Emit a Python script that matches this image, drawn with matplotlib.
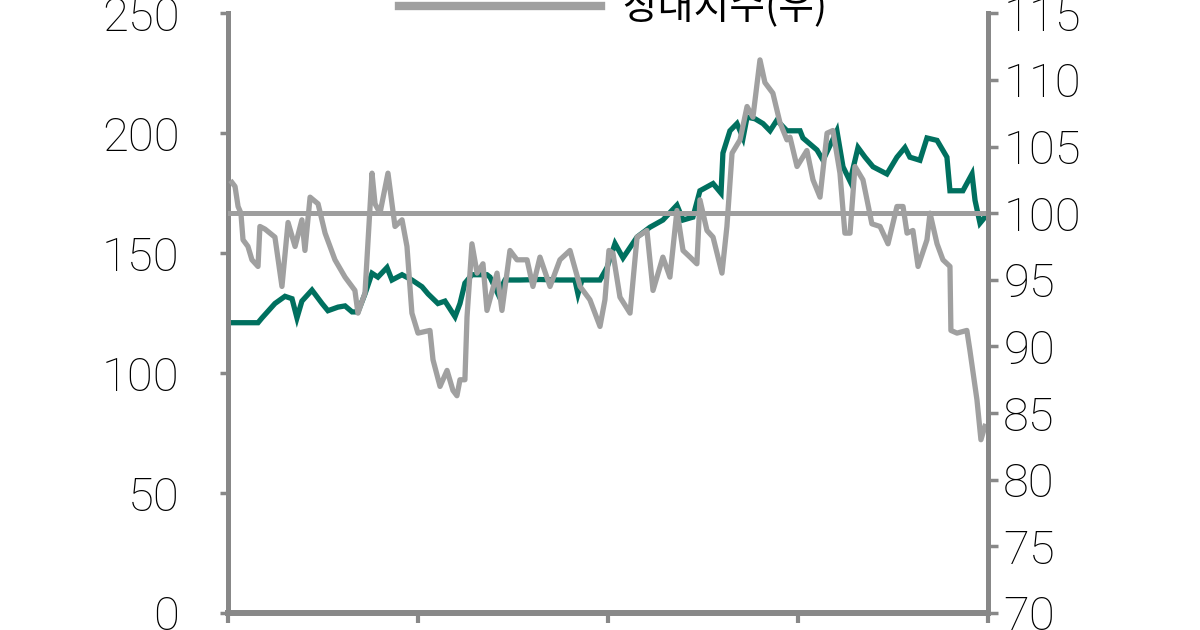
import matplotlib
matplotlib.use('Agg')
import matplotlib.pyplot as plt
from matplotlib import font_manager

# 주가(좌), 상대지수(우) - x는 시작 시점부터의 연 단위
price_t = [0.021, 0.089, 0.158, 0.179, 0.247, 0.300, 0.337, 0.363, 0.389, 0.442,
           0.495, 0.526, 0.579, 0.616, 0.653, 0.684, 0.721, 0.758, 0.789, 0.837,
           0.863, 0.916, 0.968, 1.021, 1.053, 1.105, 1.142, 1.195, 1.221, 1.247,
           1.284, 1.363, 1.379, 1.421, 1.458, 1.537, 1.642, 1.747, 1.826, 1.842,
           1.863, 1.958, 1.995, 2.037, 2.079, 2.153, 2.221, 2.289, 2.363, 2.395,
           2.447, 2.484, 2.553, 2.595, 2.605, 2.642, 2.679, 2.711, 2.732, 2.774,
           2.816, 2.853, 2.889, 2.942, 3.011, 3.026, 3.100, 3.132, 3.205, 3.237,
           3.274, 3.316, 3.353, 3.395, 3.468, 3.521, 3.563, 3.589, 3.642, 3.679,
           3.732, 3.784, 3.800, 3.868, 3.916, 3.932, 3.958, 3.984]
price = [121, 121, 121, 123, 129, 132, 131, 123, 130, 134.6,
         129, 126, 127.5, 128, 125.5, 125.5, 133, 141.6, 140, 144,
         138.8, 141, 138.8, 136, 133, 129, 130, 123.5, 129, 137.5,
         141, 141, 140, 133, 138.8, 138.8, 139, 138.8, 138.8, 133,
         138.8, 138.8, 144, 154, 148, 156.7, 160.8, 163.8, 170, 163.8,
         165, 176, 179, 175, 191.7, 201, 204, 198, 206.7, 206,
         204, 201, 205.4, 201, 201, 198, 193, 188.7, 201, 186,
         180, 194, 190, 186, 183, 190, 194, 190, 188.7, 198,
         197, 190, 176, 176, 183, 172, 162.5, 165]

rel_t = [0.021, 0.037, 0.053, 0.068, 0.079, 0.105, 0.126, 0.158, 0.168, 0.195,
         0.221, 0.247, 0.284, 0.316, 0.353, 0.389, 0.405, 0.432, 0.474, 0.511,
         0.563, 0.616, 0.668, 0.684, 0.721, 0.758, 0.774, 0.800, 0.842, 0.879,
         0.916, 0.942, 0.968, 1.000, 1.063, 1.079, 1.116, 1.153, 1.184, 1.205,
         1.221, 1.247, 1.258, 1.284, 1.311, 1.342, 1.363, 1.416, 1.442, 1.484,
         1.521, 1.574, 1.605, 1.642, 1.695, 1.747, 1.800, 1.853, 1.905, 1.958,
         1.984, 2.005, 2.026, 2.063, 2.116, 2.153, 2.205, 2.237, 2.289, 2.326,
         2.363, 2.395, 2.432, 2.468, 2.484, 2.521, 2.553, 2.600, 2.626, 2.653,
         2.695, 2.732, 2.763, 2.800, 2.826, 2.868, 2.905, 2.942, 2.958, 2.995,
         3.047, 3.079, 3.116, 3.153, 3.184, 3.221, 3.247, 3.274, 3.300, 3.342,
         3.389, 3.432, 3.474, 3.521, 3.553, 3.574, 3.605, 3.632, 3.679, 3.695,
         3.732, 3.763, 3.800, 3.805, 3.837, 3.889, 3.905, 3.942, 3.963, 3.984]
rel = [102.3, 102.0, 100.5, 100.0, 98.0, 97.5, 96.5, 96.0, 99.0, 98.8,
       98.5, 98.2, 94.5, 99.3, 97.5, 99.5, 97.2, 101.2, 100.7, 98.5,
       96.5, 95.2, 94.2, 92.5, 94.0, 103.0, 100.7, 100.0, 103.0, 99.0,
       99.5, 97.5, 92.5, 91.0, 91.2, 89.0, 87.0, 88.2, 86.7, 86.3,
       87.5, 87.5, 92.2, 97.7, 95.5, 96.2, 92.7, 95.5, 92.7, 97.2,
       96.5, 96.5, 94.5, 96.7, 94.5, 96.5, 97.2, 94.5, 93.5, 91.5,
       93.5, 97.2, 97.0, 93.7, 92.5, 98.2, 98.7, 94.2, 96.7, 95.2,
       100.2, 97.2, 96.7, 96.2, 101.0, 98.7, 98.2, 95.5, 99.0, 104.5,
       105.5, 108.0, 107.2, 111.5, 109.8, 109.0, 106.8, 105.5, 105.7, 103.5,
       104.7, 102.5, 101.2, 106.0, 106.2, 103.0, 98.5, 98.5, 103.5, 102.5,
       99.2, 99.0, 97.7, 100.5, 100.5, 98.5, 98.7, 96.0, 98.0, 100.0,
       97.7, 96.5, 96.0, 91.2, 91.0, 91.2, 89.7, 86.0, 83.0, 84.0]

base_level = 100
x_ticks = [0, 1, 2, 3, 4]
left_ticks = [0, 50, 100, 150, 200, 250]
right_ticks = [70, 75, 80, 85, 90, 95, 100, 105, 110, 115]
legend_label = '상대지수(우)'

# narrow font if there is one, otherwise Roboto light
installed = {f.name for f in font_manager.fontManager.ttflist}
if 'Liberation Sans Narrow' in installed:
    num_font, num_size, num_weight = 'Liberation Sans Narrow', 36, 'normal'
else:
    num_font, num_size, num_weight = 'Roboto', 34, 'light'

spine_c = '#888888'
teal = '#00705F'
gray = '#A0A0A0'

fig = plt.figure(figsize=(12, 6.3), dpi=100)
ax = fig.add_axes([0.19, 0.027, 0.6333, 0.952])
ax2 = ax.twinx()

ax.plot(price_t, price, color=teal, lw=3.8, solid_joinstyle='miter')
ax2.axhline(base_level, color='#9E9E9E', lw=3.6)
rel_line, = ax2.plot(rel_t, rel, color=gray, lw=3.8, label=legend_label)

ax.set_xlim(0, 4)
ax.set_ylim(0, 250)
ax2.set_ylim(70, 115)
ax.set_xticks(x_ticks)
ax.set_xticklabels([])
ax.set_yticks(left_ticks)
ax2.set_yticks(right_ticks)

for a in (ax, ax2):
    a.spines['top'].set_visible(False)
    for s in a.spines.values():
        s.set_color(spine_c)
ax.spines['right'].set_visible(False)
ax2.spines['left'].set_visible(False)
ax2.spines['bottom'].set_visible(False)
ax.spines['left'].set_linewidth(3.6)
ax.spines['bottom'].set_linewidth(4.3)
ax.spines['bottom'].set_capstyle('projecting')
ax2.spines['right'].set_linewidth(3.6)

ax.tick_params(axis='x', direction='out', length=7, width=3, color=spine_c)
ax.tick_params(axis='y', direction='out', length=6, width=2.5, color=spine_c, pad=29)
ax2.tick_params(axis='y', direction='out', length=7, width=2.5, color=spine_c, pad=4)

for lab in ax.get_yticklabels() + ax2.get_yticklabels():
    lab.set_fontfamily([num_font, 'DejaVu Sans'])
    lab.set_fontsize(num_size)
    lab.set_fontweight(num_weight)
    lab.set_color('black')

leg = ax2.legend(handles=[rel_line], loc='center', bbox_to_anchor=(0.511, 0.987),
                 bbox_transform=fig.transFigure, frameon=False, borderpad=0,
                 handlelength=5.2, handletextpad=0.55,
                 prop={'family': ['Noto Sans CJK KR', 'DejaVu Sans'], 'size': 28,
                       'weight': 'light'})
leg.get_lines()[0].set_linewidth(6)

fig.savefig('out.png', dpi=100)
